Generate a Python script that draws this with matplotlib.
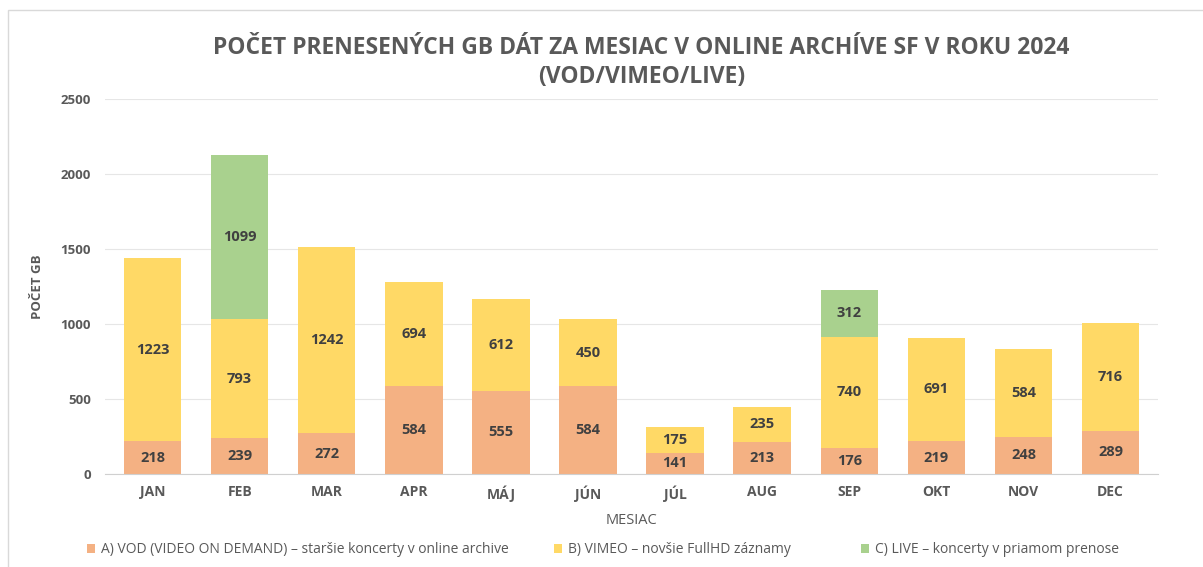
import numpy as np
import matplotlib.pyplot as plt
from matplotlib.patches import Rectangle

plt.rcParams['font.family'] = ['Open Sans', 'DejaVu Sans']

mesiace = ['JAN', 'FEB', 'MAR', 'APR', 'MÁJ', 'JÚN', 'JÚL', 'AUG', 'SEP', 'OKT', 'NOV', 'DEC']
vod = [218, 239, 272, 584, 555, 584, 141, 213, 176, 219, 248, 289]
vimeo = [1223, 793, 1242, 694, 612, 450, 175, 235, 740, 691, 584, 716]
live = [0, 1099, 0, 0, 0, 0, 0, 0, 312, 0, 0, 0]

nazvy = ['A) VOD (VIDEO ON DEMAND) – staršie koncerty v online archive',
         'B) VIMEO – novšie FullHD záznamy',
         'C) LIVE – koncerty v priamom prenose']
farby = ['#F4B183', '#FFD966', '#A9D18E']
legenda_x = [87, 554, 861]  # ľavé okraje položiek legendy v pixeloch

W, H = 1203, 567
fig = plt.figure(figsize=(W / 100, H / 100), dpi=100)
fig.patches.append(Rectangle((0.007, -0.01), 1.0, 0.993, transform=fig.transFigure,
                             fill=False, edgecolor='#d9d9d9', linewidth=1))
ax = fig.add_axes([0.087, 0.164, 0.876, 0.661])

x = np.arange(len(mesiace))
dole = np.zeros(len(mesiace))
stlpce = []
for hodnoty, farba, nazov in zip([vod, vimeo, live], farby, nazvy):
    h = np.array(hodnoty, dtype=float)
    b = ax.bar(x, h, 0.66, bottom=dole, color=farba, label=nazov, zorder=2)
    stlpce.append(b)
    for i, v in enumerate(h):
        if v > 0:
            ax.text(x[i], dole[i] + v / 2, f'{int(v)}', ha='center', va='center',
                    fontsize=10.5, fontweight='bold', color='#404040', zorder=3)
    dole += h

ax.set_xlim(-0.55, 11.55)
ax.set_ylim(0, 2500)
ax.set_yticks(np.arange(0, 2501, 500))
ax.set_xticks(x)
ax.set_xticklabels(mesiace)
ax.grid(axis='y', color='#e6e6e6', linewidth=0.8, zorder=0)
for s in ['top', 'right', 'left']:
    ax.spines[s].set_visible(False)
ax.spines['bottom'].set_color('#d0d0d0')
ax.tick_params(axis='x', length=0, labelsize=10, colors='#595959', pad=8)
ax.tick_params(axis='y', length=0, labelsize=9.5, colors='#595959', pad=10)
for t in ax.get_xticklabels() + ax.get_yticklabels():
    t.set_fontweight('bold')

ax.set_xlabel('MESIAC', fontsize=10.5, color='#595959', labelpad=8)
ax.set_ylabel('POČET GB', fontsize=9.5, fontweight='bold', color='#595959', labelpad=12)

fig.text(0.533, 0.89, 'POČET PRENESENÝCH GB DÁT ZA MESIAC V ONLINE ARCHÍVE SF V ROKU 2024\n(VOD/VIMEO/LIVE)',
         ha='center', va='center', fontsize=16.5, fontweight='bold', color='#595959', linespacing=1.25)

for b, lx in zip(stlpce, legenda_x):
    fig.legend([b], [b.get_label()], loc='center left', bbox_to_anchor=(lx / W, 0.03),
               frameon=False, fontsize=10, labelcolor='#595959', handlelength=0.6,
               handleheight=0.6, handletextpad=0.4, borderpad=0, borderaxespad=0)

plt.savefig('out.png', dpi=100)
